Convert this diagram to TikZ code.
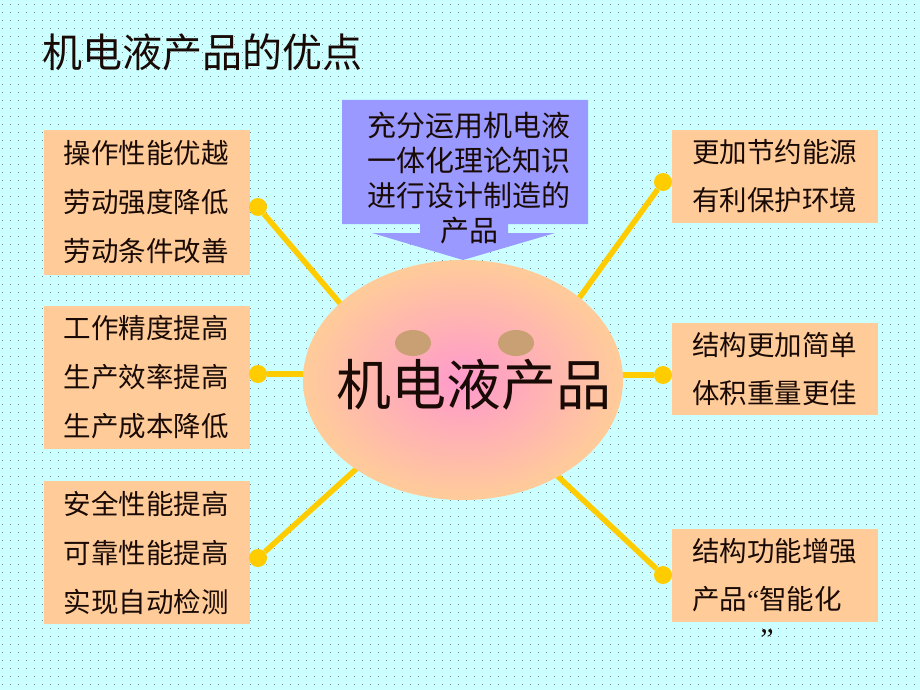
\documentclass[tikz,border=0pt]{standalone}
\usepackage{fontspec}
\newfontfamily\cjk{Noto Sans CJK SC}
\newfontfamily\quotefont{Liberation Serif}
\usetikzlibrary{shapes.geometric}
\definecolor{bgcyan}{HTML}{CCFFFF}
\definecolor{peach}{HTML}{FFCC99}
\definecolor{pinkc}{HTML}{FF99CC}
\definecolor{callout}{HTML}{9999FF}
\definecolor{sun}{HTML}{FFCC00}
\definecolor{eyec}{RGB}{200,160,115}
\definecolor{dotc}{RGB}{120,140,150}
\definecolor{ink}{RGB}{25,10,5}
\begin{document}
\begin{tikzpicture}[x=1pt,y=-1pt,
  infobox/.style={draw=none, fill=peach, minimum width=206pt, minimum height=#1, text width=166pt, align=left, inner sep=0pt, text=ink},
  lefttext/.style={font=\cjk\fontsize{27.5}{49}\selectfont},
  righttext/.style={font=\cjk\fontsize{27.5}{48}\selectfont},
  ball/.style={circle, fill=sun, minimum size=18pt, inner sep=0pt},
  spoke/.style={draw=sun, line width=5.5pt},
]
\useasboundingbox (0,0) rectangle (920,690);
\fill[bgcyan] (0,0) rectangle (920,690);
\foreach \y in {4,12,...,690}
  \draw[dotc, line width=0.9pt, dash pattern=on 0.9pt off 7.1pt] (2,\y) -- (920,\y);

% title
\node[font=\cjk\fontsize{40}{48}\selectfont, anchor=west, inner sep=0pt, text=ink] (title) at (42,52) {机电液产品的优点};

% boxes
\node[infobox=145pt, lefttext] (lb1) at (146.5,202.5) {操作性能优越\\劳动强度降低\\劳动条件改善};
\node[infobox=143pt, lefttext] (lb2) at (146.5,377.5) {工作精度提高\\生产效率提高\\生产成本降低};
\node[infobox=143pt, lefttext] (lb3) at (146.5,552.5) {安全性能提高\\可靠性能提高\\实现自动检测};
\node[infobox=93pt, righttext] (rb1) at (775,176.5) {更加节约能源\\有利保护环境};
\node[infobox=92pt, righttext] (rb2) at (775,369) {结构更加简单\\体积重量更佳};
\node[infobox=93pt, righttext] (rb3) at (775,575.5) {结构功能增强\\产品{\quotefont“}智能化};
\node[font=\quotefont\fontsize{30}{33}\selectfont, inner sep=0pt, text=ink] (quote) at (767,640) {”};

% balls
\node[ball] (b1) at (258,207) {};
\node[ball] (b2) at (258,374) {};
\node[ball] (b3) at (258,558) {};
\node[ball] (b4) at (663,182) {};
\node[ball] (b5) at (663,375) {};
\node[ball] (b6) at (663,575) {};

% spoke ends inside ellipse
\coordinate (c) at (463,380);
\coordinate (e1) at (350,315);
\coordinate (e2) at (312,374);
\coordinate (e3) at (365,461);
\coordinate (e4) at (572,308);
\coordinate (e5) at (614,375);
\coordinate (e6) at (549,468);
\draw[spoke] (b1) -- (e1);
\draw[spoke] (b2) -- (e2);
\draw[spoke] (b3) -- (e3);
\draw[spoke] (b4) -- (e4);
\draw[spoke] (b5) -- (e5);
\draw[spoke] (b6) -- (e6);

% central ellipse
\node[ellipse, minimum width=320pt, minimum height=240pt, inner sep=0pt, inner color=pinkc, outer color=peach] (prod) at (c) {};
\fill[eyec] (413,343) ellipse [x radius=18, y radius=13];
\fill[eyec] (516,343) ellipse [x radius=18, y radius=13];
\node[font=\cjk\fontsize{55}{60}\selectfont, inner sep=0pt, text=ink] (ptext) at (474,385) {机电液产品};

% callout arrow
\fill[callout] (342,100) -- (588,100) -- (588,224) -- (508,224) -- (508,233) -- (555,233) -- (463,260) -- (372,233) -- (420,233) -- (420,224) -- (342,224) -- cycle;
\node[font=\cjk\fontsize{29}{35}\selectfont, align=center, inner sep=0pt, text=ink] (ctext) at (469,178) {充分运用机电液\\一体化理论知识\\进行设计制造的\\产品};
\end{tikzpicture}
\end{document}
